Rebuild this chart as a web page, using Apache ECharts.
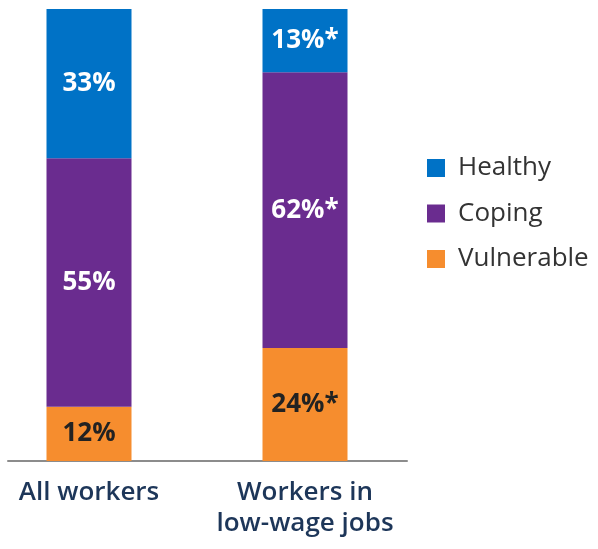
<!DOCTYPE html>
<html>
<head>
<meta charset="utf-8">
<script src="https://cdn.jsdelivr.net/npm/echarts@6/dist/echarts.min.js"></script>
<style>
html,body{margin:0;padding:0;background:#fff;}
#chart{width:598px;height:549px;}
</style>
</head>
<body>
<div id="chart"></div>
<script>
var categories = ['All workers', 'Workers in\nlow-wage jobs'];
var seriesNames = ['Vulnerable', 'Coping', 'Healthy'];
var vulnerable = [12, 25];
var coping = [55, 61];
var healthy = [33, 14];
var vulnerableLabels = ['12%', '24%*'];
var copingLabels = ['55%', '62%*'];
var healthyLabels = ['33%', '13%*'];
var legendOrder = ['Healthy', 'Coping', 'Vulnerable'];

var colors = {Vulnerable: '#F68D2E', Coping: '#6A2C8F', Healthy: '#0072C6'};
var labelColors = {Vulnerable: '#222222', Coping: '#ffffff', Healthy: '#ffffff'};
var values = {Vulnerable: vulnerable, Coping: coping, Healthy: healthy};
var texts = {Vulnerable: vulnerableLabels, Coping: copingLabels, Healthy: healthyLabels};

var FONT = '"Open Sans", sans-serif';

var series = seriesNames.map(function (name) {
  return {
    name: name,
    type: 'bar',
    stack: 'total',
    xAxisIndex: 0,
    yAxisIndex: 0,
    barWidth: 85,
    clip: false,
    itemStyle: {color: colors[name]},
    label: {
      show: true,
      position: 'inside',
      color: labelColors[name],
      fontFamily: FONT,
      fontWeight: 'bold',
      fontSize: 26,
      formatter: function (p) { return texts[name][p.dataIndex]; }
    },
    data: values[name]
  };
});

var chart = echarts.init(document.getElementById('chart'), null, {renderer: 'canvas'});
chart.setOption({
  animation: false,
  backgroundColor: '#ffffff',
  legend: {
    data: legendOrder,
    orient: 'vertical',
    left: 427,
    top: 155,
    padding: 0,
    icon: 'rect',
    itemWidth: 18,
    itemHeight: 18,
    itemGap: 19.5,
    textStyle: {fontFamily: FONT, fontSize: 26, lineHeight: 18, color: '#333333', padding: [0, 0, 0, 8]}
  },
  grid: [
    {left: 89, right: 293, top: 9, bottom: 88},
    {left: 8, right: 191, top: 9, bottom: 88}
  ],
  xAxis: [
    {
      type: 'category', gridIndex: 0, data: categories, boundaryGap: false,
      axisLine: {show: false}, axisTick: {show: false},
      axisLabel: {fontFamily: FONT, fontSize: 26, fontWeight: 600, color: '#1d3659', lineHeight: 31, margin: 16, interval: 0}
    },
    {
      type: 'category', gridIndex: 1, data: ['', ''],
      axisLine: {show: true, lineStyle: {color: '#8c8c8c', width: 2}},
      axisTick: {show: false}, axisLabel: {show: false}
    }
  ],
  yAxis: [
    {type: 'value', gridIndex: 0, min: 0, max: 100, show: false},
    {type: 'value', gridIndex: 1, min: 0, max: 100, show: false}
  ],
  series: series
});
</script>
</body>
</html>
